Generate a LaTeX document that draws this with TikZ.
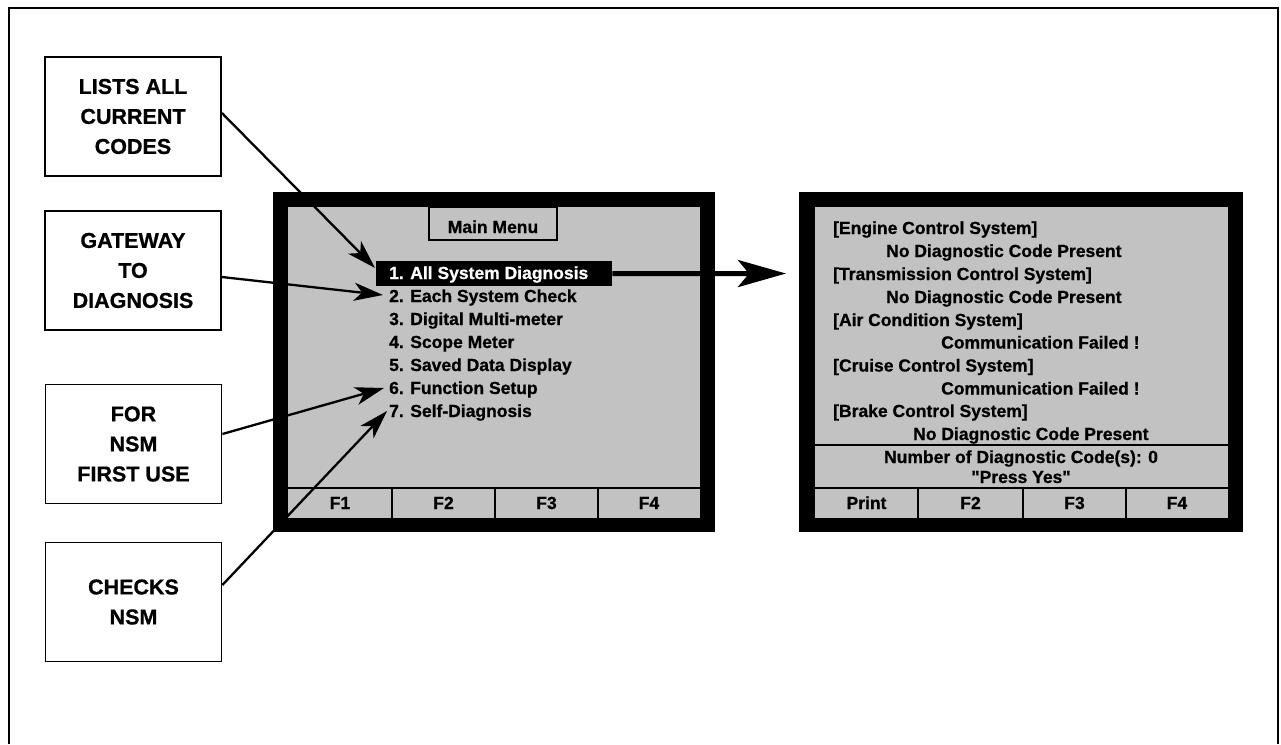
\documentclass[tikz,border=0pt]{standalone}
\usepackage{fontspec}
\setmainfont{Liberation Sans}[Ligatures=TeXOff, BoldFeatures={FakeBold=0.8}]
\usetikzlibrary{arrows.meta}
\begin{document}
\begin{tikzpicture}[x=1pt,y=-1pt,
  callout/.style={draw, line width=1.8pt, minimum width=176pt, minimum height=119pt,
    align=center, inner sep=0pt, font=\fontsize{21.5}{30}\selectfont\bfseries},
  scr/.style={inner sep=0pt, anchor=base west, font=\fontsize{17.5}{20}\selectfont\bfseries},
  scrc/.style={inner sep=0pt, anchor=base, font=\fontsize{17.5}{20}\selectfont\bfseries},
  scrfill/.style={fill=black!24},
  thin line/.style={line width=1.3pt},
  ptr/.style={line width=2.3pt, -{Stealth[length=29pt,width=18pt,inset=8pt]}},
  bigptr/.style={line width=5pt, -{Stealth[length=48pt,width=27pt,inset=11pt]}}]
\useasboundingbox (0,0) rectangle (1281,744);
% outer frame
\draw[line width=1.4pt] (9,744) -- (9,8) -- (1278,8) -- (1278,744);

% callouts
\node[callout] (c1) at (133,116.5) {LISTS ALL\\CURRENT\\CODES};
\node[callout] (c2) at (133,270.5) {GATEWAY\\TO\\DIAGNOSIS};
\node[callout] (c3) at (133.5,444) {FOR\\NSM\\FIRST USE};
\node[callout] (c4) at (133.5,602) {CHECKS\\NSM};

% left screen
\fill (273,192) rectangle (715,532);
\fill[scrfill] (288,207) rectangle (700,518);
\draw[thin line] (288,488) -- (700,488);
\foreach \x in {392,495,598} \draw[thin line] (\x,488) -- (\x,518);
\node[draw, thin line, scrfill, minimum width=128pt, minimum height=33pt, inner sep=0pt] (mm) at (493,223.5) {};
\node[scrc] at (493,233) {Main Menu};
\node[fill=black, minimum width=236pt, minimum height=25pt, inner sep=0pt, anchor=north west] (hl) at (376,261) {};
\node[scr, text=white] (i1) at (389,279) {1. All System Diagnosis};
\node[scr] (i2) at (389,302) {2. Each System Check};
\node[scr] (i3) at (389,325) {3. Digital Multi-meter};
\node[scr] (i4) at (389,348) {4. Scope Meter};
\node[scr] (i5) at (389,371) {5. Saved Data Display};
\node[scr] (i6) at (389,394) {6. Function Setup};
\node[scr] (i7) at (389,417) {7. Self-Diagnosis};
\node[scrc] at (340,509) {F1};
\node[scrc] at (443.5,509) {F2};
\node[scrc] at (546.5,509) {F3};
\node[scrc] at (649,509) {F4};

% right screen
\fill (799,192) rectangle (1243,532);
\fill[scrfill] (815,207) rectangle (1228,518);
\draw[thin line] (815,445) -- (1228,445);
\draw[thin line] (815,488) -- (1228,488);
\foreach \x in {918,1023,1126} \draw[thin line] (\x,488) -- (\x,518);
\node[scr] at (833,234) {[Engine Control System]};
\node[scr] at (886,257) {No Diagnostic Code Present};
\node[scr] at (833,280) {[Transmission Control System]};
\node[scr] at (886,303) {No Diagnostic Code Present};
\node[scr] at (833,326) {[Air Condition System]};
\node[scr] at (941,348.5) {Communication Failed !};
\node[scr] at (833,371.5) {[Cruise Control System]};
\node[scr] at (941,394.5) {Communication Failed !};
\node[scr] at (833,417) {[Brake Control System]};
\node[scr] at (913,440) {No Diagnostic Code Present};
\node[scrc] at (1021,463) {Number of Diagnostic Code(s): 0};
\node[scrc] at (1021,483) {"Press Yes"};
\node[scrc] at (866.5,509) {Print};
\node[scrc] at (970.5,509) {F2};
\node[scrc] at (1074.5,509) {F3};
\node[scrc] at (1177,509) {F4};

% connectors
\coordinate (t1) at (375,268);
\coordinate (t2) at (383,295);
\coordinate (t3) at (384,388);
\coordinate (t4) at (387,411);
\coordinate (tb) at (786,273.5);
\draw[ptr] (c1.east |- 0,113) -- (t1);
\draw[ptr] (c2.east |- 0,277) -- (t2);
\draw[ptr] (c3.east |- 0,434) -- (t3);
\draw[ptr] (c4.east |- 0,585) -- (t4);
\draw[bigptr] (hl.east) -- (tb);
\end{tikzpicture}
\end{document}
